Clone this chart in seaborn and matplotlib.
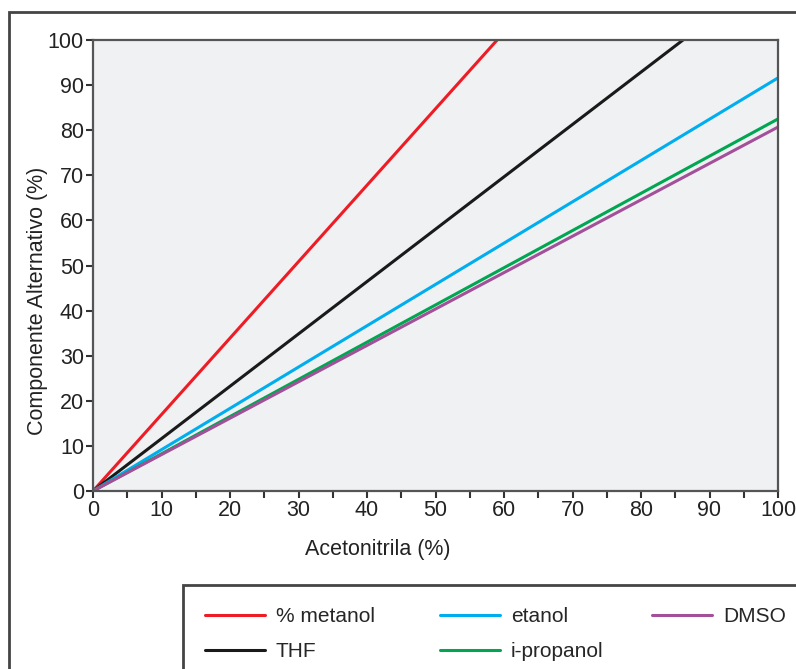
import numpy as np
import pandas as pd
import matplotlib
matplotlib.use("Agg")
import matplotlib.pyplot as plt
import matplotlib.patches as mpatches
import seaborn as sns
from matplotlib.ticker import MultipleLocator

# dados (linhas retas a partir da origem)
acetonitrila = [0, 100]
metanol = [0, 169.5]
thf = [0, 116.1]
etanol = [0, 91.6]
ipropanol = [0, 82.5]
dmso = [0, 80.7]

nomes = ['% metanol', 'THF', 'etanol', 'i-propanol', 'DMSO']
series = [metanol, thf, etanol, ipropanol, dmso]
cores = ['#ee1c25', '#1a1a1a', '#00aeef', '#00a651', '#a3509b']

linhas = []
for nome, vals in zip(nomes, series):
    for x, y in zip(acetonitrila, vals):
        linhas.append({'Acetonitrila': x, 'Componente': y, 'solvente': nome})
df = pd.DataFrame(linhas)

sns.set_theme(style="white")
plt.rcParams['font.family'] = ['Liberation Sans', 'DejaVu Sans']

fig = plt.figure(figsize=(7.96, 6.69), dpi=100)
ax = fig.add_axes([93/796, 1-491/669, 685/796, 451/669])
ax.set_facecolor('#f0f1f3')

sns.lineplot(data=df, x='Acetonitrila', y='Componente', hue='solvente',
             hue_order=nomes, palette=dict(zip(nomes, cores)),
             linewidth=2.2, ax=ax, legend=False)

ax.set_xlim(0, 100)
ax.set_ylim(0, 100)
ax.xaxis.set_major_locator(MultipleLocator(10))
ax.xaxis.set_minor_locator(MultipleLocator(5))
ax.yaxis.set_major_locator(MultipleLocator(10))
ax.tick_params(axis='both', which='both', direction='out', length=5, width=1.5,
               color='#333333', labelsize=15.5, labelcolor='#222222', pad=1.5)
ax.tick_params(axis='x', which='both', bottom=True)
ax.tick_params(axis='y', which='both', left=True)
for s in ax.spines.values():
    s.set_color('#555555')
    s.set_linewidth(1.6)

ax.set_xlabel('Acetonitrila (%)', fontsize=15.5, color='#222222')
ax.set_ylabel('Componente Alternativo (%)', fontsize=15.5, color='#222222')
# rotulos deslocados como no original
ax.xaxis.set_label_coords(0.416, -0.107)
ax.yaxis.set_label_coords(-0.066, 0.421)

# moldura externa e caixa da legenda (ultrapassam a borda da figura)
fig.patches.append(mpatches.Rectangle((9/796, -0.1), 1.2, 1.1-12/669,
                                      transform=fig.transFigure, fill=False,
                                      edgecolor='#444444', linewidth=2))
fig.patches.append(mpatches.Rectangle((183/796, -0.1), 1.2, 0.1+(669-585)/669,
                                      transform=fig.transFigure, fill=False,
                                      edgecolor='#444444', linewidth=2))

# legenda em tres colunas posicionadas a mao
colunas = [(0, 2, 205), (2, 4, 440), (4, 5, 652)]
for i0, i1, xpix in colunas:
    hs = [plt.Line2D([], [], color=c, linewidth=2.2) for c in cores[i0:i1]]
    leg = fig.legend(hs, nomes[i0:i1], loc='upper left',
                     bbox_to_anchor=(xpix/796, 1-607/669), frameon=False,
                     fontsize=15, handlelength=2.9, handletextpad=0.5,
                     labelspacing=0.77, borderpad=0, borderaxespad=0)

fig.savefig('out.png', dpi=100)
